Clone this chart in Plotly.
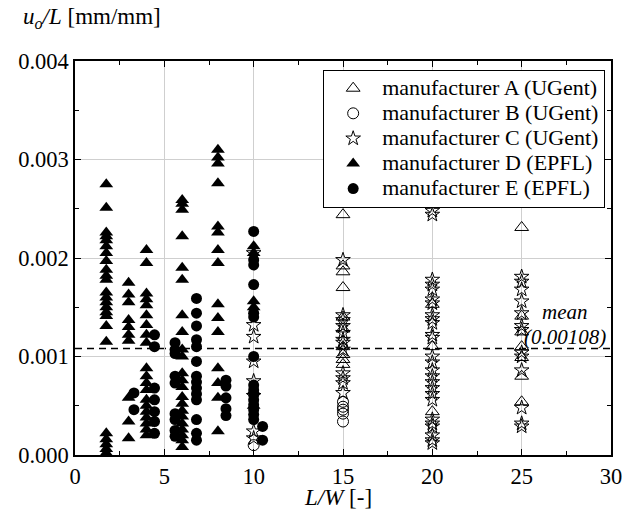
import plotly.graph_objects as go

# ---- data (L/W columns and u_o/L values in mm/mm) ----
mfrA_LW = [15, 20, 25]
mfrA_uL = [
    [0.00244, 0.00192, 0.00186, 0.00170, 0.00140, 0.00128, 0.00110, 0.00102, 0.00097, 0.00092],
    [0.00153, 0.00110, 0.00044],
    [0.00231, 0.00141, 0.00125, 0.00110, 0.00099, 0.00080, 0.00054],
]

mfrB_LW = [10, 15]
mfrB_uL = [
    [0.00010],
    [0.00054, 0.00049, 0.00046, 0.00042, 0.00034],
]

mfrC_LW = [10, 15, 20, 25]
mfrC_uL = [
    [0.00205, 0.00132, 0.00120, 0.00095, 0.00075, 0.00060, 0.00024, 0.00017],
    [0.00198, 0.00142, 0.00137, 0.00131, 0.00124, 0.00117, 0.00114, 0.00107,
     0.00083, 0.00078, 0.00073, 0.00063],
    [0.00248, 0.00244, 0.00178, 0.00173, 0.00168, 0.00158, 0.00154, 0.00142,
     0.00138, 0.00134, 0.00122, 0.00119, 0.00100, 0.00094, 0.00086, 0.00080,
     0.00074, 0.00068, 0.00062, 0.00056, 0.00036, 0.00032, 0.00029, 0.00020,
     0.00015, 0.00012],
    [0.00181, 0.00176, 0.00168, 0.00156, 0.00144, 0.00131, 0.00127, 0.00104,
     0.00100, 0.00086, 0.00048, 0.00032, 0.00029],
]

mfrD_LW = [1.75, 3, 4, 6, 8, 10]
mfrD_uL = [
    [0.00275, 0.00251, 0.00226, 0.00222, 0.00218, 0.00212, 0.00205, 0.00197,
     0.00188, 0.00182, 0.00178, 0.00165, 0.00160, 0.00155, 0.00150, 0.00145,
     0.00141, 0.00131, 0.00115, 0.00022, 0.00016, 0.00011, 0.00006, 0.00002],
    [0.00175, 0.00163, 0.00155, 0.00137, 0.00130, 0.00122, 0.00116,
     0.00058, 0.00034, 0.00017],
    [0.00208, 0.00195, 0.00164, 0.00158, 0.00152, 0.00142, 0.00132, 0.00122,
     0.00114, 0.00088, 0.00080, 0.00073, 0.00066, 0.00056, 0.00050, 0.00044,
     0.00038, 0.00032, 0.00026, 0.00020],
    [0.00259, 0.00255, 0.00249, 0.00222, 0.00190, 0.00178, 0.00142, 0.00125,
     0.00107, 0.00100, 0.00083, 0.00076, 0.00069, 0.00059, 0.00052, 0.00045,
     0.00039, 0.00032, 0.00026, 0.00020, 0.00015, 0.00008],
    [0.00310, 0.00302, 0.00296, 0.00276, 0.00232, 0.00226, 0.00208, 0.00195,
     0.00153, 0.00139, 0.00125, 0.00088, 0.00073, 0.00058, 0.00024],
    [0.00212, 0.00205, 0.00156, 0.00150, 0.00065, 0.00050],
]

mfrE_LW = [3.3, 4.45, 5.6, 6.8, 8.45, 10, 10.5]
mfrE_uL = [
    [0.00063, 0.00046],
    [0.00122, 0.00110, 0.00068, 0.00056, 0.00044, 0.00034, 0.00022],
    [0.00114, 0.00107, 0.00103, 0.00080, 0.00073, 0.00042, 0.00036, 0.00025, 0.00019],
    [0.00159, 0.00144, 0.00131, 0.00117, 0.00110, 0.00095, 0.00080, 0.00074,
     0.00068, 0.00062, 0.00056, 0.00036, 0.00022, 0.00015],
    [0.00076, 0.00070, 0.00058, 0.00047, 0.00040],
    [0.00227, 0.00198, 0.00193, 0.00173, 0.00144, 0.00140, 0.00100, 0.00071,
     0.00066, 0.00061, 0.00056, 0.00051, 0.00046, 0.00041, 0.00036],
    [0.00029, 0.00015],
]

mean_value = 0.00108
mean_label = ["mean", "(0.00108)"]

series_names = [
    "manufacturer A (UGent)",
    "manufacturer B (UGent)",
    "manufacturer C (UGent)",
    "manufacturer D (EPFL)",
    "manufacturer E (EPFL)",
]

x_ticks = [0, 5, 10, 15, 20, 25, 30]
y_ticks = [0.000, 0.001, 0.002, 0.003, 0.004]


def flatten(cols, vals):
    xs, ys = [], []
    for c, v in zip(cols, vals):
        xs.extend([c] * len(v))
        ys.extend(v)
    return xs, ys


FONT = "Liberation Serif, Times New Roman, serif"

styles = [
    dict(symbol="triangle-up-open", size=12, color="black", line=dict(width=1, color="black")),
    dict(symbol="circle-open", size=11, color="black", line=dict(width=1, color="black")),
    dict(symbol="star-open", size=11, color="black", line=dict(width=1, color="black")),
    dict(symbol="triangle-up", size=12, color="black", line=dict(width=0)),
    dict(symbol="circle", size=11, color="black", line=dict(width=0)),
]

data = [(mfrA_LW, mfrA_uL), (mfrB_LW, mfrB_uL), (mfrC_LW, mfrC_uL),
        (mfrD_LW, mfrD_uL), (mfrE_LW, mfrE_uL)]

fig = go.Figure()
order = [3, 4, 0, 1, 2]
for i in order:
    xs, ys = flatten(*data[i])
    fig.add_trace(go.Scatter(
        x=xs, y=ys, mode="markers",
        name='<span style="font-size:22px">%s</span>' % series_names[i],
        marker=styles[i], legendrank=i + 1, cliponaxis=False,
    ))

fig.add_shape(type="line", xref="x", yref="y", x0=x_ticks[0], x1=x_ticks[-1],
              y0=mean_value, y1=mean_value,
              line=dict(color="black", width=1.5, dash="7px,5px"), layer="below")

fig.add_annotation(x=27.45, y=mean_value, xref="x", yref="y", text="<i>%s</i>" % mean_label[0],
                   showarrow=False, yshift=37, font=dict(family=FONT, size=21, color="black"))
fig.add_annotation(x=27.45, y=mean_value, xref="x", yref="y", text="<i>%s</i>" % mean_label[1],
                   showarrow=False, yshift=12, font=dict(family=FONT, size=21, color="black"))

fig.add_annotation(x=-0.1, y=1.11, xref="paper", yref="paper", xanchor="left", yanchor="middle",
                   text="<i>u<sub>o</sub>/L</i> [mm/mm]", showarrow=False,
                   font=dict(family=FONT, size=23, color="black"))
fig.add_annotation(x=0.49, y=-0.107, xref="paper", yref="paper", xanchor="center", yanchor="middle",
                   text="<i>L/W</i> [-]", showarrow=False,
                   font=dict(family=FONT, size=23, color="black"))

axis_common = dict(
    showline=True, linecolor="black", linewidth=1.5, mirror="ticks",
    ticks="inside", ticklen=6, tickwidth=1.2, tickcolor="black",
    showgrid=True, gridcolor="#cfcfcf", gridwidth=1, zeroline=False,
    tickfont=dict(family=FONT, size=22.5, color="black"),
    ticklabeloverflow="allow", automargin=False,
)

fig.update_xaxes(range=[x_ticks[0], x_ticks[-1]], tickvals=x_ticks,
                 minor=dict(dtick=2.5, ticks="inside", ticklen=4, tickcolor="black", showgrid=False),
                 **axis_common)
fig.update_yaxes(range=[y_ticks[0], y_ticks[-1]], tickvals=y_ticks, tickformat=".3f",
                 minor=dict(dtick=0.0005, ticks="inside", ticklen=4, tickcolor="black", showgrid=False),
                 **axis_common)

fig.update_layout(
    width=623, height=529,
    margin=dict(l=75, r=12, t=61, b=74, autoexpand=False),
    paper_bgcolor="white", plot_bgcolor="white",
    showlegend=True,
    legend=dict(x=0.463, y=0.978, xanchor="left", yanchor="top",
                bgcolor="white", bordercolor="black", borderwidth=1,
                font=dict(family=FONT, size=17, color="black"),
                itemwidth=48, tracegroupgap=0),
    font=dict(family=FONT, color="black"),
)

fig.write_html("out.html")
